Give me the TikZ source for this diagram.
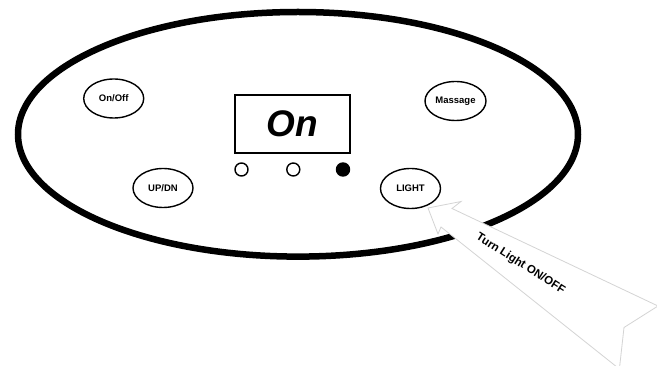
\documentclass[tikz,border=0pt]{standalone}
\usepackage{fontspec}
\setmainfont{Liberation Sans}
\usetikzlibrary{shapes.geometric}
\begin{document}
\begin{tikzpicture}[x=1pt,y=-1pt,
  btn/.style={draw, line width=1.4pt, ellipse, minimum width=60pt, minimum height=39pt, inner sep=0pt,
              font=\fontsize{9.5}{11}\selectfont\bfseries},
  led/.style={draw, circle, line width=1.4pt, minimum size=13pt, inner sep=0pt},
  pointer/.style={fill=white, draw=black!17, line width=0.8pt, line join=miter},
  panel/.style={draw, line width=6.5pt}]
\useasboundingbox (0,0) rectangle (657,366);
\fill[white] (0,0) rectangle (657,366);
\begin{scope}
\clip (0,0) rectangle (657,366);
% outer panel
\draw[panel] (298,134.3) ellipse [x radius=280, y radius=122.3];
% buttons
\node[btn] (onoff) at (113.7,98.5) {On/Off};
\node[btn, minimum width=61pt] (massage) at (455.5,101) {Massage};
\node[btn] (updn) at (163,188) {UP/DN};
\node[btn, minimum height=40pt] (light) at (410.5,188.5) {LIGHT};
% display
\node[draw, line width=2pt, rectangle, minimum width=115pt, minimum height=57.7pt, inner sep=0pt,
      font=\fontsize{37}{40}\selectfont\bfseries\itshape] (display) at (292.5,123.8) {On};
% indicator lights
\node[led] (led1) at (241.5,169.5) {};
\node[led] (led2) at (293.3,169.5) {};
\node[led, fill=black] (led3) at (343,169.5) {};
% pointer arrow
\coordinate (tip) at (428,208);
\draw[pointer] (tip) -- (461,201.5) -- (452,208.5) -- (658,306) -- (624,327.5)
   -- (619.4,369) -- (441,227) -- (438,234) -- cycle;
\node[rotate=-32.5, font=\fontsize{11.5}{13}\selectfont\bfseries] (lbl) at (520.5,264) {Turn Light ON/OFF};
\end{scope}
\end{tikzpicture}
\end{document}
